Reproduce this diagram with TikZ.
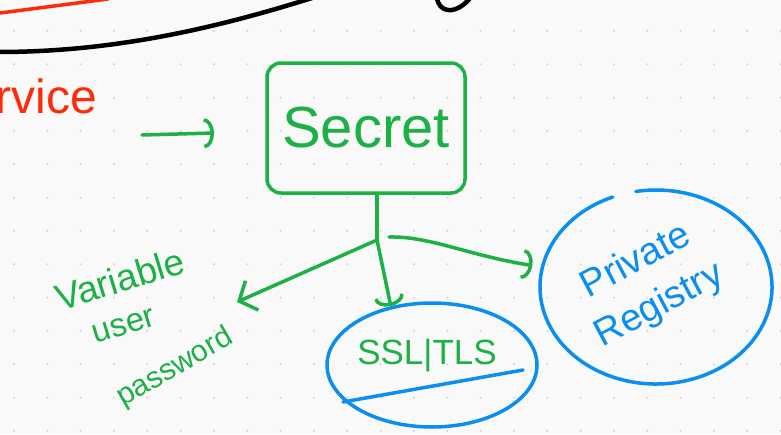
\documentclass[tikz,border=0pt]{standalone}
\usepackage{fontspec}
\setmainfont{Liberation Sans}
\usetikzlibrary{arrows.meta,shapes.geometric,calc}
\definecolor{inkgreen}{HTML}{1DB045}
\definecolor{inkblue}{HTML}{0A8EF0}
\definecolor{inkred}{HTML}{FF2A0A}
\definecolor{paper}{HTML}{F9F9F9}
\definecolor{dotgray}{HTML}{D2D2D2}
\begin{document}
\begin{tikzpicture}[x=1pt,y=-1pt,
  pen/.style={line width=3.5pt, line cap=round, line join=round},
  greenpen/.style={pen, draw=inkgreen},
  bluepen/.style={pen, draw=inkblue},
  hook/.style={-{Arc Barb[length=10pt,width=30pt]}},
  barb/.style={-{Straight Barb[length=14pt,width=32pt]}},
  greentext/.style={text=inkgreen, inner sep=0pt},
  bluetext/.style={text=inkblue, inner sep=0pt},
  fs/.style={font=\fontsize{#1}{#1}\selectfont},
  secretbox/.style={draw=inkgreen, line width=3.5pt, rounded corners=14pt,
    minimum width=198pt, minimum height=130pt, inner sep=0pt, text=inkgreen},
  blob/.style={ellipse, inner sep=0pt}
]
\fill[paper] (0,0) rectangle (781,434);
\useasboundingbox (0,0) rectangle (781,434);
\clip (0,0) rectangle (781,434);
\foreach \i in {0,...,23} {
  \foreach \j in {0,...,12} {
    \fill[dotgray] (14+33.33*\i, 31+33.33*\j) circle (1.1pt);
  }
}
% top strokes (cut-off previous content)
\draw[pen, draw=inkred] (0,13) -- (108,-1);
\draw[line width=4.5pt, line cap=round] (-2,52) .. controls (110,52) and (210,30) .. (312,-2);
\draw[line width=4.5pt, line cap=round] (437,-3) .. controls (438,13) and (456,16) .. (471,-3);
\node[fs=48, text=inkred, inner sep=0pt, anchor=east] (svc) at (97,96) {rvice};

% arrow towards Secret
\coordinate (a0) at (142,135);
\coordinate (a1) at (214,133);
\draw[greenpen, hook] (a0) -- (a1);

% Secret box
\node[secretbox, fs=58] (secret) at (366,128) {Secret};

% branches
\coordinate (J) at (377,240);
\draw[greenpen] (secret.south -| J) -- (J);

% SSL|TLS
\node[blob, draw=inkblue, line width=3.5pt, minimum width=210pt, minimum height=124pt] (ssl) at (432,365) {};
\node[greentext, fs=35] (ssltext) at (427,356) {SSL|TLS};
\draw[bluepen] ($(ssl.center)+(-89,37)$) -- ($(ssl.center)+(91,5)$);

% Private Registry
\node[blob, minimum width=232pt, minimum height=194pt] (reg) at (656,287) {};
\draw[bluepen] ($(reg.center)+(112:116pt and 97pt)$) arc[start angle=112, end angle=460, x radius=116pt, y radius=97pt];
\node[bluetext, fs=38, align=center, rotate=28] (regtext) at (648,284) {Private\\[12pt]Registry};

% variable user password
\node[greentext, fs=37, rotate=17] (var1) at (120,279) {Variable};
\node[greentext, fs=33, rotate=17] (var2) at (124,326) {user};
\node[greentext, fs=30, rotate=30] (var3) at (175,368) {password};
\coordinate (vtip) at (237,302);

\draw[greenpen, barb] (J) -- (vtip);
\draw[greenpen, hook] (J) -- (ssl.125);
\draw[greenpen, hook, shorten >=10pt] ($(J)+(12,-3)$) .. controls (430,236) and (470,256) .. (reg.170);
\end{tikzpicture}
\end{document}
